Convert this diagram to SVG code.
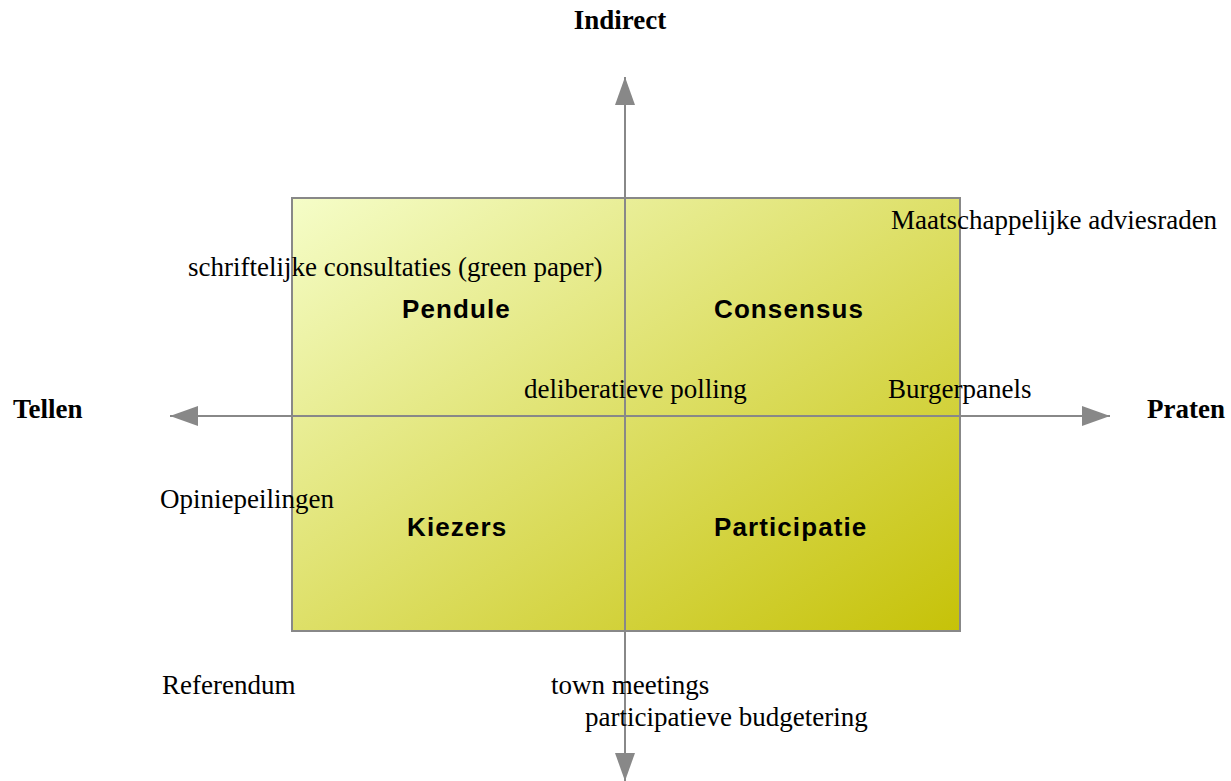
<svg xmlns="http://www.w3.org/2000/svg" width="1231" height="781" viewBox="0 0 1231 781">
<style>
.lbl{font-family:"Liberation Serif","Times New Roman",serif;font-size:27px;fill:#000}
.ax{font-family:"Liberation Serif","Times New Roman",serif;font-size:27px;font-weight:bold;fill:#000}
.q{font-family:"Liberation Sans",Arial,sans-serif;font-size:26px;font-weight:bold;letter-spacing:1.1px;fill:#000}
.axis{stroke:#888;stroke-width:2;fill:none}
</style>
<defs>
<linearGradient id="g" x1="0" y1="0" x2="1" y2="1">
<stop offset="0" stop-color="#f5fdc8"/>
<stop offset="1" stop-color="#c6c208"/>
</linearGradient>
<marker id="ah" viewBox="0 0 28 20" refX="28" refY="10" markerWidth="28" markerHeight="20" markerUnits="userSpaceOnUse" orient="auto">
<path d="M0,0 L28,10 L0,20 Z" fill="#888"/>
</marker>
</defs>
<g id="quadrant-box">
<rect x="292" y="198" width="668" height="433" fill="url(#g)" stroke="#888" stroke-width="2"/>
</g>
<g id="connectors">
<line class="axis" x1="625" y1="416" x2="625" y2="77" marker-end="url(#ah)"/>
<line class="axis" x1="625" y1="416" x2="625" y2="781" marker-end="url(#ah)"/>
<line class="axis" x1="625" y1="416" x2="170" y2="416" marker-end="url(#ah)"/>
<line class="axis" x1="625" y1="416" x2="1110" y2="416" marker-end="url(#ah)"/>
</g>
<g id="axis-labels">
<text class="ax" x="620" y="29" text-anchor="middle">Indirect</text>
<text class="ax" x="13" y="418">Tellen</text>
<text class="ax" x="1147" y="418">Praten</text>
</g>
<g id="quadrants">
<text class="q" x="402" y="318">Pendule</text>
<text class="q" x="714" y="318">Consensus</text>
<text class="q" x="407" y="536">Kiezers</text>
<text class="q" x="714" y="536">Participatie</text>
</g>
<g id="items">
<text class="lbl" x="188" y="276">schriftelijke consultaties (green paper)</text>
<text class="lbl" x="891" y="229">Maatschappelijke adviesraden</text>
<text class="lbl" x="524" y="398">deliberatieve polling</text>
<text class="lbl" x="888" y="398">Burgerpanels</text>
<text class="lbl" x="160" y="508">Opiniepeilingen</text>
<text class="lbl" x="162" y="694">Referendum</text>
<text class="lbl" x="551" y="694">town meetings</text>
<text class="lbl" x="585" y="726">participatieve budgetering</text>
</g>
</svg>
